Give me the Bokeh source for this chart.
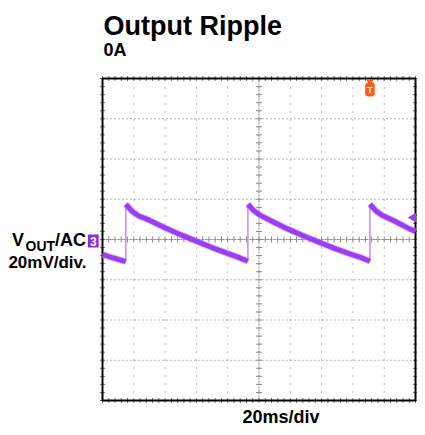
import numpy as np
from bokeh.plotting import figure
from bokeh.models import Label, Range1d
from bokeh.embed import file_html
from bokeh.resources import INLINE

# ---- data (time in ms, 20 ms/div; voltage in mV, 20 mV/div) ----
seg_t = [
    [0.0, 7.0, 14.9],
    [14.9, 18.9, 22.9, 29.9, 39.9, 49.9, 59.9, 69.9, 79.9, 86.9, 92.9],
    [92.9, 96.9, 100.9, 107.9, 117.9, 127.9, 137.9, 147.9, 157.9, 164.9, 170.9],
    [170.9, 174.9, 178.9, 185.9, 195.9, 200.0],
]
seg_v = [
    [-7.4, -9.2, -11.0],
    [17.5, 14.0, 11.8, 9.6, 5.8, 2.4, -0.8, -4.0, -6.9, -8.9, -10.8],
    [17.5, 14.2, 12.0, 9.2, 5.4, 2.0, -1.2, -4.3, -7.1, -8.9, -10.8],
    [17.5, 14.1, 11.9, 9.4, 5.4, 4.0],
]
jump_t = [14.9, 92.9, 170.9]
jump_lo = [-11.0, -10.8, -10.8]
jump_hi = [17.5, 17.5, 17.5]
trig_t = 170.9
trig_level = 10.9

X0, X1 = 0.0, 200.0
Y0, Y1 = -80.0, 80.0
x_major = list(np.arange(X0, X1 + 0.1, 20.0))
y_major = list(np.arange(Y0, Y1 + 0.1, 20.0))
x_minor = list(np.arange(X0, X1 + 0.1, 4.0))
y_minor = list(np.arange(Y0, Y1 + 0.1, 4.0))

TRACE = "#9B3DF0"
FONT = "Liberation Sans"

W, H = 417, 427
# picture coords of the graticule
L, R, T, B = 102, 415, 78, 400


def dx(px):
    return X0 + (px - L) / (R - L) * (X1 - X0)


def dy(py):
    return Y1 - (py - T) / (B - T) * (Y1 - Y0)


p = figure(width=W, height=H,
           x_range=Range1d(dx(0), dx(W)), y_range=Range1d(dy(H), dy(0)),
           x_axis_location=None, y_axis_location=None,
           min_border=0, toolbar_location=None, output_backend="svg")
p.outline_line_color = None
p.background_fill_color = "white"
p.border_fill_color = "white"
p.xgrid.visible = False
p.ygrid.visible = False

GRID = "#707070"
# dotted graticule
inner_x = x_major[1:-1]
inner_y = y_major[1:-1]
p.segment(inner_x, [Y0] * len(inner_x), inner_x, [Y1] * len(inner_x),
          line_color=GRID, line_width=1, line_dash="1 7")
p.segment([X0] * len(inner_y), inner_y, [X1] * len(inner_y), inner_y,
          line_color=GRID, line_width=1, line_dash="1 3")
# centre crosshair
p.segment([X0], [0], [X1], [0], line_color="#8a8a8a", line_width=1, line_dash="2 1")
p.segment([100], [Y0], [100], [Y1], line_color="#8a8a8a", line_width=1, line_dash="2 1")
p.scatter(x_minor, [0] * len(x_minor), marker="dash", angle=np.pi / 2, size=6, line_color="#8a8a8a")
p.scatter([100] * len(y_minor), y_minor, marker="dash", size=6, line_color="#8a8a8a")
# edge ticks
p.scatter(x_minor, [Y1] * len(x_minor), marker="dash", angle=np.pi / 2, size=5, line_color=GRID)
p.scatter(x_minor, [Y0] * len(x_minor), marker="dash", angle=np.pi / 2, size=5, line_color=GRID)
p.scatter([X0] * len(y_minor), y_minor, marker="dash", size=5, line_color=GRID)
p.scatter([X1] * len(y_minor), y_minor, marker="dash", size=5, line_color=GRID)
# frame
p.quad(left=[X0], right=[X1], bottom=[Y0], top=[Y1], fill_color=None,
       line_color="black", line_width=2)

# trace
p.segment(jump_t, jump_lo, jump_t, jump_hi, line_color="#C38AF7", line_width=1.5)
p.multi_line(seg_t, seg_v, line_color="#C590F7", line_width=7, line_alpha=0.5)
p.multi_line(seg_t, seg_v, line_color=TRACE, line_width=5)

# trigger level arrow (right edge)
p.scatter([X1 - 1.5], [trig_level], marker="triangle", angle=np.pi / 2, size=8,
          fill_color=TRACE, line_color=TRACE)
# trigger position marker (top)
p.scatter([trig_t], [dy(81)], marker="inverted_triangle", size=6,
          fill_color="#FF5A1F", line_color="#FF5A1F")
p.add_layout(Label(x=trig_t, y=dy(89), text="T", text_align="center", text_baseline="middle",
                   text_font=FONT, text_font_style="bold", text_font_size="9px",
                   text_color="white", background_fill_color="#FF5A1F",
                   padding=2, border_radius=3))

# channel marker
p.add_layout(Label(x=dx(92.8), y=dy(240.5), text="3", text_align="center", text_baseline="middle",
                   text_font=FONT, text_font_style="bold", text_font_size="12px",
                   text_color="white", background_fill_color="#8A2BE2", padding=2))


# texts
def txt(px, py, s, size, align="left"):
    p.add_layout(Label(x=dx(px), y=dy(py), text=s, text_align=align, text_baseline="alphabetic",
                       text_font=FONT, text_font_style="bold", text_font_size=size,
                       text_color="black"))


txt(103, 25, "Output Ripple", "27px")
txt(103, 49.5, "0A", "18px")
txt(11.5, 239, "V", "18px")
txt(25, 245.5, "OUT", "14px")
txt(85.5, 239, "/AC", "18px", align="right")
txt(86, 261.7, "20mV/div.", "17px", align="right")
txt(242, 416, "20ms/div", "18px")

open("out.html", "w").write(file_html(p, INLINE))
